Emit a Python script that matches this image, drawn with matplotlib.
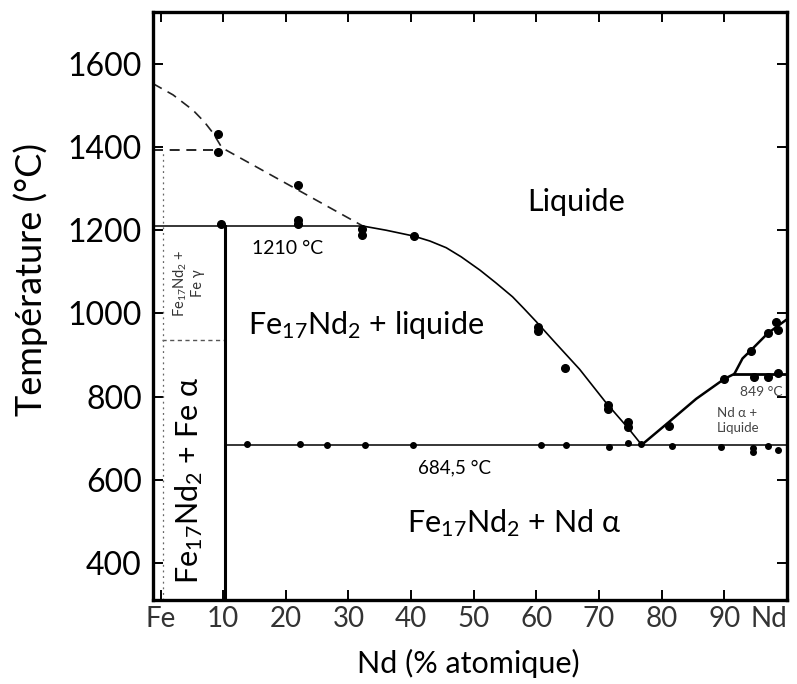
import matplotlib
matplotlib.use("Agg")
import matplotlib.pyplot as plt

plt.rcParams['font.family'] = ['Lato', 'DejaVu Sans']
plt.rcParams['mathtext.default'] = 'regular'

# limites du diagramme
x_min, x_max = -1.2, 100
t_min, t_max = 312, 1724

# paliers (°C)
t_peritectic = 1210
t_eutectic = 684.5
t_nd_trans = 855
t_fe_trans = 937
t_fe_top = 1392
x_compound = 10.3
x_peri = 32.3
x_eut = 76.8

# liquidus Fe17Nd2 (trait plein)
liq_left_x = [32.3, 36.0, 40.4, 43.0, 45.6, 48.0, 51.0, 53.5, 56.2, 58.0, 60.0,
              63.0, 66.9, 71.1, 74.8, 76.8]
liq_left_t = [1210, 1200, 1186, 1174, 1158, 1136, 1104, 1074, 1040, 1012, 980,
              930, 866, 786, 722, 684.5]

# liquidus côté Nd
liq_right_x = [76.8, 81.2, 85.5, 90.0, 91.6]
liq_right_t = [684.5, 740, 795, 843, 855]
liq_nd_x = [91.6, 92.9, 94.2, 96.9, 99.8, 100]
liq_nd_t = [855, 892, 911, 952, 984, 986]

# liquidus côté Fe (pointillés)
liq_fe_x = [-1.2, 2.0, 5.2, 7.0, 8.4, 9.8, 32.3]
liq_fe_t = [1552, 1525, 1488, 1460, 1433, 1398, 1210]

# points expérimentaux
pts_x = [9.25, 9.25, 22.0, 9.7, 22.0, 22.0, 32.1, 32.1, 40.4, 60.2, 60.2, 64.5,
         71.4, 71.4, 74.6, 74.6, 81.2, 90.0, 94.2, 96.9, 98.2, 98.5, 94.8, 96.9, 98.5]
pts_t = [1432, 1388, 1308, 1214, 1224, 1215, 1204, 1188, 1187, 968, 959, 870,
         780, 770, 740, 728, 730, 842, 911, 952, 980, 960, 848, 848, 858]
eut_pts_x = [13.8, 22.3, 26.6, 32.6, 40.3, 60.8, 64.8, 71.6, 74.6, 76.7, 81.7,
             89.5, 94.5, 94.5, 96.9, 98.5]
eut_pts_t = [686, 686, 685, 684, 685, 685, 685, 680, 690, 686, 683,
             680, 676, 667, 683, 672]

x_ticks = [0, 10, 20, 30, 40, 50, 60, 70, 80, 90, 100]
x_labels = ['Fe', '10', '20', '30', '40', '50', '60', '70', '80', '90', 'Nd']
y_ticks = [400, 600, 800, 1000, 1200, 1400, 1600]

fig = plt.figure(figsize=(7.97, 6.84), dpi=100)
ax = fig.add_axes([153 / 797, 1 - 600 / 684, 634 / 797, 588 / 684])
ax.set_xlim(x_min, x_max)
ax.set_ylim(t_min, t_max)

k = 'black'
# lignes horizontales
ax.plot([x_min, x_peri], [t_peritectic] * 2, color=k, lw=1.1)
ax.plot([x_compound, x_max], [t_eutectic] * 2, color=k, lw=1.1)
ax.plot([91.6, x_max], [t_nd_trans] * 2, color=k, lw=2.0)
ax.plot([x_min, 9.5], [t_fe_top] * 2, color=k, lw=1.2, dashes=(6, 4))
ax.plot([0.3, x_compound], [t_fe_trans] * 2, color='#555555', lw=1.0, dashes=(3, 2.5))
# ligne du composé
ax.plot([x_compound, x_compound], [t_min, t_peritectic], color=k, lw=2.2)
ax.plot([0.4, 0.4], [t_min, t_fe_top], color='#666666', lw=0.9, dashes=(1.5, 3))

# liquidus
ax.plot(liq_left_x, liq_left_t, color=k, lw=1.2)
ax.plot(liq_right_x, liq_right_t, color=k, lw=1.8)
ax.plot(liq_nd_x, liq_nd_t, color=k, lw=1.8)
ax.plot(liq_fe_x, liq_fe_t, color='#222222', lw=1.2, dashes=(6, 4))

ax.plot(pts_x, pts_t, 'o', color=k, ms=5.5, ls='none')
ax.plot(eut_pts_x, eut_pts_t, 'o', color=k, ms=4, ls='none')

# textes
ax.text(66.4, 1268, 'Liquide', fontsize=22, ha='center', va='center')
ax.text(32.9, 972, r'Fe$_{17}$Nd$_{2}$ + liquide', fontsize=22, ha='center', va='center')
ax.text(56.5, 497, r'Fe$_{17}$Nd$_{2}$ + Nd α', fontsize=22, ha='center', va='center')
ax.text(20.3, 1155, '1210 °C', fontsize=14, ha='center', va='center')
ax.text(46.9, 629, '684,5 °C', fontsize=13.5, ha='center', va='center')
ax.text(95.9, 812, '849 °C', fontsize=10, ha='center', va='center', color='#444444')
ax.text(92.2, 744, 'Nd α +\nLiquide', fontsize=9.5, ha='center', va='center',
        color='#444444', linespacing=1.3, multialignment='left')
ax.text(4.6, 600, r'Fe$_{17}$Nd$_{2}$ + Fe α', fontsize=22, ha='center', va='center',
        rotation=90)
ax.text(4.4, 1073, 'Fe$_{17}$Nd$_{2}$ +\nFe γ', fontsize=10.5, ha='center', va='center',
        rotation=90, color='#333333', linespacing=1.2)

# axes
for s in ax.spines.values():
    s.set_linewidth(2.4)
ax.tick_params(direction='in', length=7, width=1.4, top=True, right=True)
ax.set_xticks(x_ticks)
ax.set_xticklabels(x_labels, fontsize=20, color='#333333')
ax.tick_params(axis='x', pad=4)
ax.get_xticklabels()[-1].set_ha('right')
ax.set_yticks(y_ticks)
ax.set_yticklabels([str(v) for v in y_ticks], fontsize=23)
ax.tick_params(axis='y', pad=8)

fig.text(31 / 797, 1 - 280 / 684, 'Température (°C)', fontsize=26, rotation=90,
         ha='center', va='center')
fig.text(468 / 797, 1 - 663 / 684, 'Nd (% atomique)', fontsize=22, ha='center',
         va='center')

fig.savefig('out.png', dpi=100)
